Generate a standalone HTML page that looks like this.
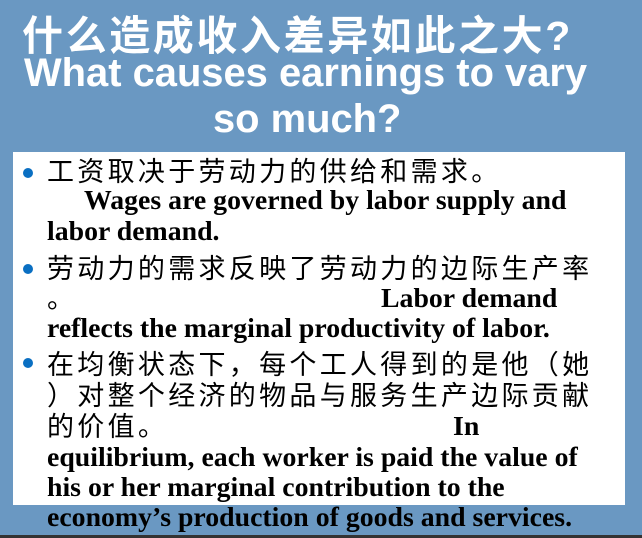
<!DOCTYPE html>
<html><head><meta charset="utf-8"><style>
body{margin:0;width:642px;height:538px;overflow:hidden;background:#6a98c2;position:relative;font-family:"Liberation Serif","Noto Serif CJK SC",serif}
.t{position:absolute;color:#fff;font-family:"Liberation Sans","Noto Sans CJK SC",sans-serif;font-weight:bold;white-space:nowrap}
.box{position:absolute;left:13px;top:152px;width:612px;height:353px;background:#fff}
.l{position:absolute;white-space:nowrap;font-weight:bold;font-size:27.8px;color:#000;line-height:30px}
.c{font-family:"Liberation Sans","Noto Sans CJK SC",sans-serif;font-weight:normal;font-size:27px;letter-spacing:3.3px}
.b{position:absolute;left:23px;width:10px;height:10px;border-radius:50%;background:#0a6fc2}
.strip{position:absolute;left:0;top:535px;width:642px;height:3px;background:#333}
</style></head><body>
<div class="t" style="left:22px;top:2px;font-size:41px;letter-spacing:2.6px">什么造成收入差异如此之大?</div>
<div class="t" style="left:24px;top:51px;font-size:39.9px">What causes earnings to vary</div>
<div class="t" style="left:213px;top:97px;font-size:39.9px">so much?</div>
<div class="box"></div>
<div class="b" style="top:168px"></div>
<div class="b" style="top:264px"></div>
<div class="b" style="top:358px"></div>
<div class="l c" style="left:47px;top:157px">工资取决于劳动力的供给和需求。</div>
<div class="l" style="left:84px;top:186px">Wages are governed by labor supply and</div>
<div class="l" style="left:47px;top:217px">labor demand.</div>
<div class="l c" style="left:47px;top:254px">劳动力的需求反映了劳动力的边际生产率</div>
<div class="l c" style="left:47px;top:284px">。</div>
<div class="l" style="left:381px;top:284px">Labor demand</div>
<div class="l" style="left:47px;top:314px">reflects the marginal productivity of labor.</div>
<div class="l c" style="left:47px;top:350px">在均衡状态下，每个工人得到的是他（她</div>
<div class="l c" style="left:47px;top:381px">）对整个经济的物品与服务生产边际贡献</div>
<div class="l c" style="left:47px;top:412px">的价值。</div>
<div class="l" style="left:453px;top:412px">In</div>
<div class="l" style="left:47px;top:443px">equilibrium, each worker is paid the value of</div>
<div class="l" style="left:47px;top:473px">his or her marginal contribution to the</div>
<div class="l" style="left:47px;top:503px">economy’s production of goods and services.</div>
<div class="strip"></div>
</body></html>
